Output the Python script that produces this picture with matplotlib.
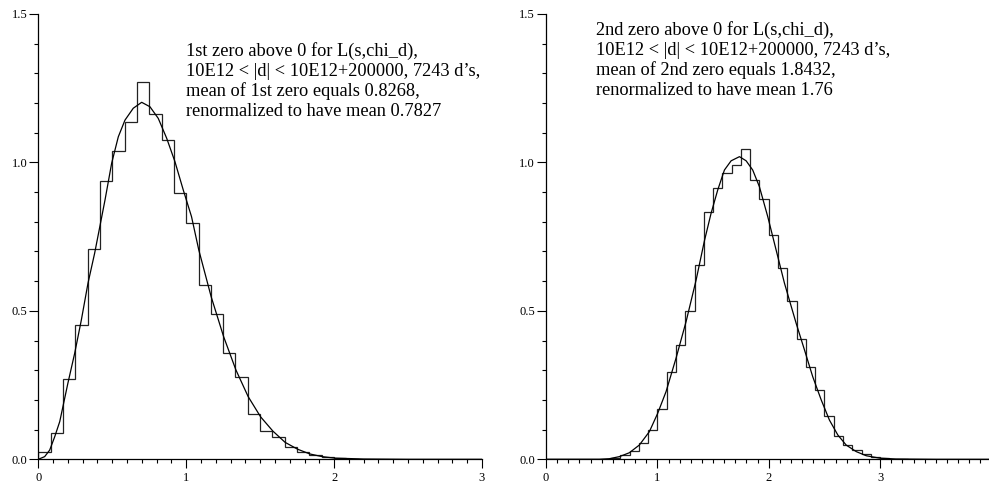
import numpy as np
import matplotlib
matplotlib.use("Agg")
import matplotlib.pyplot as plt
from matplotlib.ticker import MultipleLocator

# ---------------- data ----------------
bin_width = 1.0 / 12.0

# left panel: 1st zero histogram (bins of width 1/12 starting at 0)
hist1 = [0.0236, 0.0897, 0.269, 0.452, 0.708, 0.938, 1.037, 1.136, 1.270,
         1.164, 1.076, 0.897, 0.795, 0.588, 0.489, 0.359, 0.277, 0.151,
         0.095, 0.074, 0.042, 0.026, 0.013, 0.007, 0.003, 0.0]

curve1_x = [0.0, 0.043, 0.077, 0.111, 0.145, 0.2, 0.246, 0.291, 0.336, 0.381,
            0.451, 0.496, 0.541, 0.586, 0.642, 0.699, 0.755, 0.811, 0.868,
            0.924, 0.98, 1.036, 1.085, 1.169, 1.253, 1.336, 1.419, 1.503,
            1.586, 1.669, 1.753, 1.836, 1.919, 2.003, 2.2, 2.5, 3.0]
curve1_y = [0.0, 0.009, 0.031, 0.076, 0.127, 0.256, 0.357, 0.469, 0.593, 0.694,
            0.873, 0.997, 1.086, 1.142, 1.182, 1.202, 1.187, 1.148, 1.081,
            1.002, 0.907, 0.817, 0.705, 0.547, 0.413, 0.301, 0.211, 0.143,
            0.095, 0.057, 0.034, 0.018, 0.009, 0.004, 0.001, 0.0, 0.0]

# right panel: 2nd zero histogram
hist2 = [0.0, 0.0, 0.0, 0.0, 0.0, 0.0, 0.0, 0.003, 0.016, 0.027, 0.055, 0.098,
         0.171, 0.293, 0.384, 0.500, 0.655, 0.834, 0.912, 0.963, 0.991, 1.044,
         0.940, 0.875, 0.754, 0.645, 0.532, 0.404, 0.312, 0.233, 0.147, 0.078,
         0.048, 0.030, 0.018, 0.009, 0.004, 0.002, 0.0]

curve2_x = [0.0, 0.479, 0.569, 0.659, 0.748, 0.838, 0.928, 1.003, 1.078, 1.168,
            1.258, 1.348, 1.422, 1.482, 1.542, 1.602, 1.662, 1.737, 1.797,
            1.856, 1.916, 1.991, 2.066, 2.141, 2.246, 2.321, 2.395, 2.471,
            2.545, 2.62, 2.695, 2.785, 2.875, 2.995, 3.14, 3.5, 4.0]
curve2_y = [0.0, 0.0, 0.002, 0.009, 0.022, 0.048, 0.093, 0.155, 0.228, 0.341,
            0.464, 0.604, 0.735, 0.828, 0.907, 0.974, 1.005, 1.019, 1.005,
            0.974, 0.918, 0.817, 0.705, 0.593, 0.458, 0.368, 0.278, 0.2,
            0.132, 0.082, 0.048, 0.026, 0.012, 0.004, 0.001, 0.0, 0.0]

text1 = ["1st zero above 0 for L(s,chi_d),",
         "10E12 < |d| < 10E12+200000, 7243 d\u2019s,",
         "mean of 1st zero equals 0.8268,",
         "renormalized to have mean 0.7827"]
text2 = ["2nd zero above 0 for L(s,chi_d),",
         "10E12 < |d| < 10E12+200000, 7243 d\u2019s,",
         "mean of 2nd zero equals 1.8432,",
         "renormalized to have mean 1.76"]

xticks1 = [0, 1, 2, 3]
xticks2 = [0, 1, 2, 3, 4]
yticks = [0.0, 0.5, 1.0, 1.5]

# ---------------- figure ----------------
W, H = 989, 484
plt.rcParams['font.family'] = ['Liberation Serif', 'DejaVu Serif']
fig = plt.figure(figsize=(W / 100, H / 100), dpi=100)

def px_axes(x0, x1, ytop, ybot):
    return fig.add_axes([x0 / W, 1 - ybot / H, (x1 - x0) / W, (ybot - ytop) / H])

ax1 = px_axes(38.3, 482.0, 13.8, 459.3)
ax2 = px_axes(546.0, 991.5, 13.8, 459.3)

def style(ax, xmax, xt):
    ax.set_xlim(0, xmax)
    ax.set_ylim(0, 1.5)
    for s in ('top', 'right'):
        ax.spines[s].set_visible(False)
    for s in ('left', 'bottom'):
        ax.spines[s].set_linewidth(0.9)
        ax.spines[s].set_clip_on(False)
    ax.set_xticks(xt)
    ax.set_xticklabels([str(v) for v in xt])
    ax.set_yticks(yticks)
    ax.set_yticklabels(["%.1f" % v for v in yticks])
    ax.xaxis.set_minor_locator(MultipleLocator(0.1))
    ax.yaxis.set_minor_locator(MultipleLocator(0.1))
    ax.tick_params(which='major', direction='out', length=6.3, width=0.8,
                   labelsize=9, pad=2.5, colors='black')
    ax.tick_params(which='minor', direction='out', length=3.0, width=0.8)
    ax.tick_params(axis='y', which='major', pad=1.5)
    ax.patch.set_alpha(0)

style(ax1, 3, xticks1)
style(ax2, 4, xticks2)

edges1 = np.arange(len(hist1) + 1) * bin_width
edges2 = np.arange(len(hist2) + 1) * bin_width

ax1.stairs(hist1, edges1, color='#222222', linewidth=0.9)
ax1.plot(curve1_x, curve1_y, color='black', linewidth=0.9)
ax2.stairs(hist2, edges2, color='#222222', linewidth=0.9)
ax2.plot(curve2_x, curve2_y, color='black', linewidth=0.9)

def put_text(lines, x0, base0, step):
    for i, line in enumerate(lines):
        fig.text(x0 / W, 1 - (base0 + i * step) / H, line, fontsize=13.2,
                 va='baseline', ha='left', color='black')

put_text(text1, 186, 56, 20.0)
put_text(text2, 596, 35, 20.0)

fig.savefig("out.png", dpi=100)
